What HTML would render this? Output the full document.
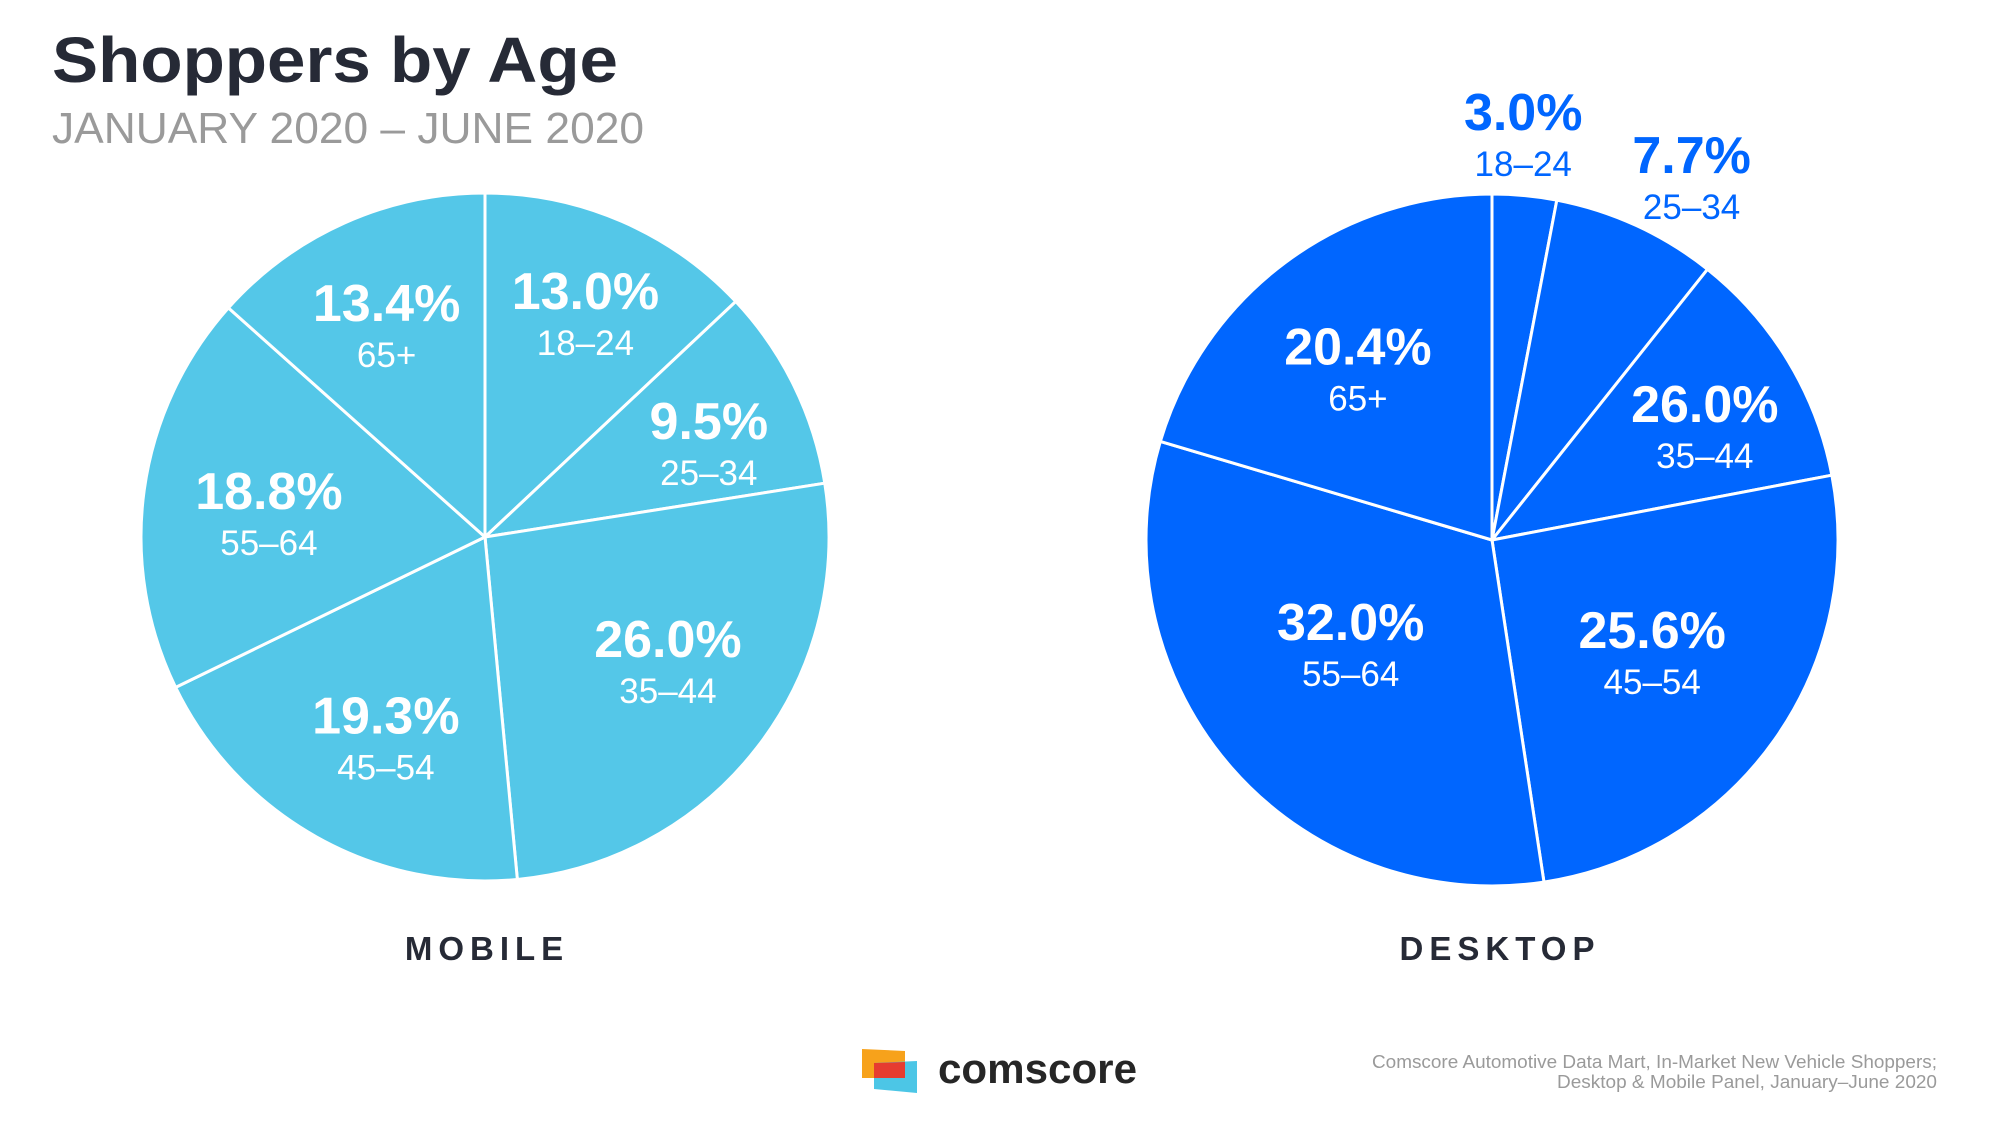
<!DOCTYPE html>
<html><head><meta charset="utf-8"><style>
html,body{margin:0;padding:0;background:#fff;}
svg{display:block;font-family:"Liberation Sans",sans-serif;}
</style></head><body>
<svg id="chart" width="2000" height="1125" viewBox="0 0 2000 1125">
<text x="52" y="82" font-size="64" font-weight="bold" fill="#262a36" textLength="566" lengthAdjust="spacingAndGlyphs">Shoppers by Age</text>
<text x="52" y="143" font-size="44" fill="#9a9a9a" textLength="592" lengthAdjust="spacingAndGlyphs">JANUARY 2020 – JUNE 2020</text>
<g id="mobile"></g>
<g id="desktop"></g>
<text x="487" y="960" font-size="33" font-weight="bold" fill="#262a36" text-anchor="middle" letter-spacing="6">MOBILE</text>
<text x="1500" y="960" font-size="33" font-weight="bold" fill="#262a36" text-anchor="middle" letter-spacing="6">DESKTOP</text>
<g>
<polygon points="862,1049 905,1051 905,1078 862,1078" fill="#f7a21b"/>
<polygon points="874,1063 917,1061 917,1093 874,1089" fill="#4cc6e6"/>
<polygon points="874,1063 905,1062 905,1078 874,1078" fill="#e63c30"/>
<text x="938" y="1083" font-size="42" font-weight="bold" fill="#262626" textLength="199" lengthAdjust="spacingAndGlyphs">comscore</text>
</g>
<text x="1937" y="1068" font-size="18" fill="#9a9a9a" text-anchor="end" textLength="565" lengthAdjust="spacingAndGlyphs">Comscore Automotive Data Mart, In-Market New Vehicle Shoppers;</text>
<text x="1937" y="1088" font-size="18" fill="#9a9a9a" text-anchor="end" textLength="380" lengthAdjust="spacingAndGlyphs">Desktop &amp; Mobile Panel, January–June 2020</text>
</svg>
<script>
const categories = ["18–24","25–34","35–44","45–54","55–64","65+"];
const mobileValues = [13.0, 9.5, 26.0, 19.3, 18.8, 13.4];
const mobileLabels = ["13.0%","9.5%","26.0%","19.3%","18.8%","13.4%"];
const desktopValues = [3.0, 7.7, 11.3, 25.6, 32.0, 20.4];
const desktopLabels = ["3.0%","7.7%","26.0%","25.6%","32.0%","20.4%"];

const NS = "http://www.w3.org/2000/svg";
function mk(tag, attrs, parent){const e=document.createElementNS(NS,tag);for(const k in attrs)e.setAttribute(k,attrs[k]);parent.appendChild(e);return e;}

function drawPie(g, cx, cy, r, values, labels, color, labelPos, prefix, outsideIdx, outColor){
  const total = values.reduce((a,b)=>a+b,0);
  const ang = v => v/total*Math.PI*2;
  let a0 = 0;
  const pt = (a,rr)=>[cx+rr*Math.sin(a), cy-rr*Math.cos(a)];
  values.forEach((v,i)=>{
    const a1 = a0 + ang(v);
    const p0 = pt(a0,r), p1 = pt(a1,r);
    const large = (a1-a0) > Math.PI ? 1 : 0;
    const path = mk("path",{d:`M${cx},${cy} L${p0[0]},${p0[1]} A${r},${r} 0 ${large} 1 ${p1[0]},${p1[1]} Z`, fill:color, stroke:"#fff", "stroke-width":3, "stroke-linejoin":"round"}, g);
    
    
    a0 = a1;
  });
  let s = 0;
  values.forEach((v,i)=>{
    const mid = (s + v/2)/total*Math.PI*2;
    s += v;
    const lp = labelPos[i];
    const p = pt(mid + lp[1], r*lp[0]);
    const out = outsideIdx.includes(i);
    const fill = out ? outColor : "#fff";
    const t1 = mk("text",{x:p[0], y:p[1]+4, "font-size":52, "font-weight":"bold", fill:fill, "text-anchor":"middle"}, g);
    t1.textContent = labels[i];
    
    
    const t2 = mk("text",{x:p[0], y:p[1]+50, "font-size":35, fill:fill, "text-anchor":"middle"}, g);
    t2.textContent = categories[i];
    
    
  });
}
// [radius fraction, angular offset (rad)] for label placement (style, not data)
const mobileLabelPos = [[0.735,0.0],[0.715,0.028],[0.63,-0.094],[0.63,-0.037],[0.635,0.009],[0.70,0.0]];
const desktopLabelPos = [[1.20,-0.019],[1.218,0.063],[0.709,0.023],[0.552,-0.04],[0.494,0.119],[0.648,0.0]];
drawPie(document.getElementById('mobile'), 485, 537, 344, mobileValues, mobileLabels, "#54c7e8", mobileLabelPos, "mobile", [], "#fff");
drawPie(document.getElementById('desktop'), 1492, 540, 346, desktopValues, desktopLabels, "#0066ff", desktopLabelPos, "desktop", [0,1], "#0066ff");
</script>
</body></html>
